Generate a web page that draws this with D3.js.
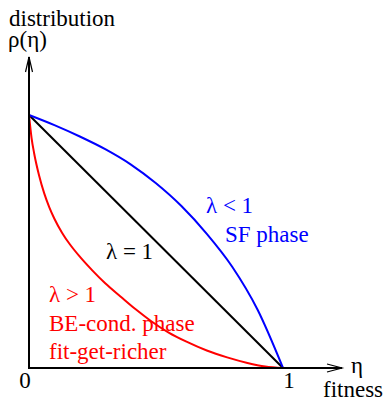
<!DOCTYPE html>
<html>
<head>
<meta charset="utf-8">
<script src="https://cdn.jsdelivr.net/npm/d3@7"></script>
<style>
  html, body { margin: 0; padding: 0; background: #fff; }
  svg { display: block; }
</style>
</head>
<body>
<div id="chart"></div>
<script>
// fitness values (eta) and distribution rho(eta)
const etaLinear = [0, 1]
const rhoLinear = [1, 0]

const etaSF = [0, 0.1, 0.2, 0.3, 0.4, 0.5, 0.6, 0.7, 0.8, 0.9, 1]
const rhoSF = [1, 0.96, 0.915, 0.865, 0.805, 0.73, 0.64, 0.53, 0.40, 0.23, 0]

const etaBE = [0, 0.01, 0.02, 0.04, 0.06, 0.08, 0.10, 0.13, 0.16, 0.20, 0.25, 0.30, 0.36, 0.42, 0.48, 0.55, 0.62, 0.70, 0.78, 0.86, 0.93, 1]
const rhoBE = [1, 0.91, 0.85, 0.76, 0.69, 0.635, 0.59, 0.535, 0.49, 0.44, 0.385, 0.335, 0.283, 0.232, 0.186, 0.14, 0.104, 0.069, 0.042, 0.02, 0.006, 0]

const xTicks = [0, 1]
const xTickLabels = ['0', '1']

const width = 384
const height = 398
const FONT = 'Liberation Serif, DejaVu Serif, serif'
const FONT_SIZE = '23px'

const x = d3.scaleLinear([0, 1], [29, 283])
const y = d3.scaleLinear([0, 1], [368, 115])

const svg = d3.select('#chart').append('svg')
  .attr('width', width)
  .attr('height', height)
  .style('font-family', FONT)

const zip = (a, b) => a.map((v, i) => [v, b[i]])

const line = d3.line()
  .x(d => x(d[0]))
  .y(d => y(d[1]))
  .curve(d3.curveMonotoneX)

const series = [
  { pts: zip(etaLinear, rhoLinear), color: '#000000' },
  { pts: zip(etaSF, rhoSF), color: '#0000ff' },
  { pts: zip(etaBE, rhoBE), color: '#ff0000' }
]

svg.selectAll('path.curve')
  .data(series)
  .join('path')
  .attr('class', 'curve')
  .attr('d', d => line(d.pts))
  .attr('fill', 'none')
  .attr('stroke', d => d.color)
  .attr('stroke-width', 2)

// axes with open arrow heads
const axes = svg.append('g')
  .attr('stroke', '#000')
  .attr('stroke-width', 2)
  .attr('fill', 'none')

const x0 = x(0), y0 = y(0)
const yTip = 57, xTip = 342

axes.append('path').attr('d', `M${x0},${y0 + 1}V${yTip}`)
axes.append('path').attr('d', `M${x0 - 3.5},${yTip + 15}L${x0},${yTip}L${x0 + 3.5},${yTip + 15}`)
  .attr('stroke-width', 1.2)
axes.append('path').attr('d', `M${x0 - 1},${y0}H${xTip}`)
axes.append('path').attr('d', `M${xTip - 15},${y0 - 4}L${xTip},${y0}L${xTip - 15},${y0 + 4}`)
  .attr('stroke-width', 1.2)

// tick labels
svg.selectAll('text.tick')
  .data(xTicks)
  .join('text')
  .attr('class', 'tick')
  .attr('x', d => x(d) + (d === 0 ? -4 : 6))
  .attr('y', 388)
  .attr('text-anchor', 'middle')
  .style('font-family', FONT)
  .style('font-size', FONT_SIZE)
  .text((d, i) => xTickLabels[i])

const labels = [
  { text: 'distribution', x: 9, y: 26, color: '#000' },
  { text: 'ρ(η)', x: 8, y: 47, color: '#000' },
  { text: 'η', x: 351, y: 373, color: '#000' },
  { text: 'fitness', x: 323, y: 397, color: '#000' },
  { text: 'λ = 1', x: 106, y: 259, color: '#000' },
  { text: 'λ < 1', x: 206, y: 213, color: '#0000ff' },
  { text: 'SF phase', x: 225, y: 242, color: '#0000ff' },
  { text: 'λ > 1', x: 49, y: 302, color: '#ff0000' },
  { text: 'BE-cond. phase', x: 49, y: 331, color: '#ff0000' },
  { text: 'fit-get-richer', x: 49, y: 359, color: '#ff0000' }
]

svg.selectAll('text.label')
  .data(labels)
  .join('text')
  .attr('class', 'label')
  .attr('x', d => d.x)
  .attr('y', d => d.y)
  .attr('fill', d => d.color)
  .style('font-family', FONT)
  .style('font-size', FONT_SIZE)
  .text(d => d.text)
</script>
</body>
</html>
